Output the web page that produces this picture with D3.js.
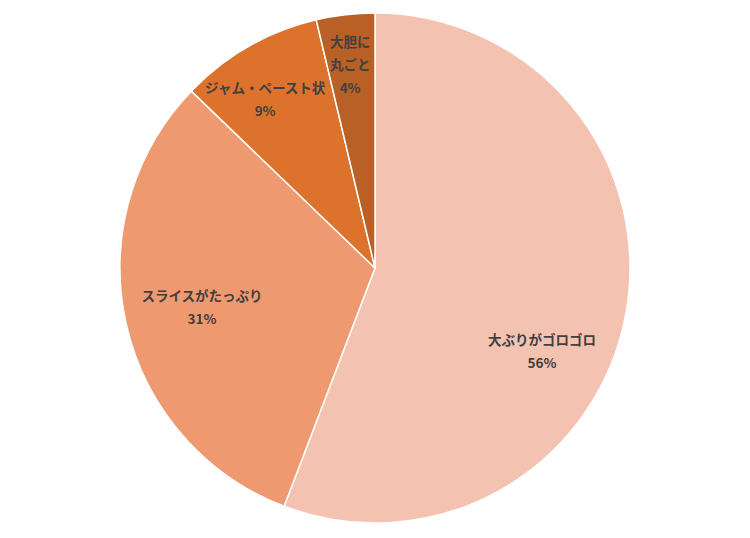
<!DOCTYPE html>
<html><head><meta charset="utf-8">
<script src="https://cdn.jsdelivr.net/npm/d3@7"></script>
<style>html,body{margin:0;padding:0;background:#fff;}svg{display:block;}</style>
</head><body>
<svg id="chart" width="750" height="538"></svg>
<script>
const categories = ["大ぶりがゴロゴロ", "スライスがたっぷり", "ジャム・ペースト状", "大胆に丸ごと"];
const values = [55.8, 31.4, 9.1, 3.7];
const percentLabels = ["56%", "31%", "9%", "4%"];
const nameLines = [["大ぶりがゴロゴロ"], ["スライスがたっぷり"], ["ジャム・ペースト状"], ["大胆に", "丸ごと"]];
const colors = ["#F4C2B1", "#EE9970", "#DC722C", "#B86026"];

// label placement (polar: degrees clockwise from top, fraction of radius)
const labelAngle = [116.7, 257.1, 326.9, 353];
const labelRadius = [0.733, 0.696, 0.789, 0.80];

const svg = d3.select("#chart");
const cx = 375, cy = 268, r = 255;
const g = svg.append("g").attr("transform", `translate(${cx},${cy})`);
const data = categories.map((c, i) => ({cat: c, value: values[i], lines: nameLines[i].concat([percentLabels[i]]), color: colors[i]}));
const pie = d3.pie().value(d => d.value).sort(null);
const arcs = pie(data);
const arc = d3.arc().innerRadius(0).outerRadius(r);
g.selectAll("path").data(arcs).join("path")
  .attr("d", arc).attr("fill", d => d.data.color)
  .attr("stroke", "#fff").attr("stroke-width", 1.5).attr("stroke-linejoin", "round");

const lineH = 23;
arcs.forEach((d, i) => {
  const a = labelAngle[i] * Math.PI / 180;
  const lr = r * labelRadius[i];
  const x = Math.sin(a) * lr, y = -Math.cos(a) * lr;
  const n = d.data.lines.length;
  const t = g.append("text").attr("text-anchor", "middle")
    .attr("font-family", "'Noto Sans CJK JP', 'Noto Sans', sans-serif")
    .attr("font-weight", "bold").attr("font-size", 13.5).attr("fill", "#404040");
  d.data.lines.forEach((ln, j) => {
    t.append("tspan").attr("x", x).attr("y", y + (j - (n - 1) / 2) * lineH).attr("dy", "0.35em").text(ln);
  });
});
</script>
</body></html>
